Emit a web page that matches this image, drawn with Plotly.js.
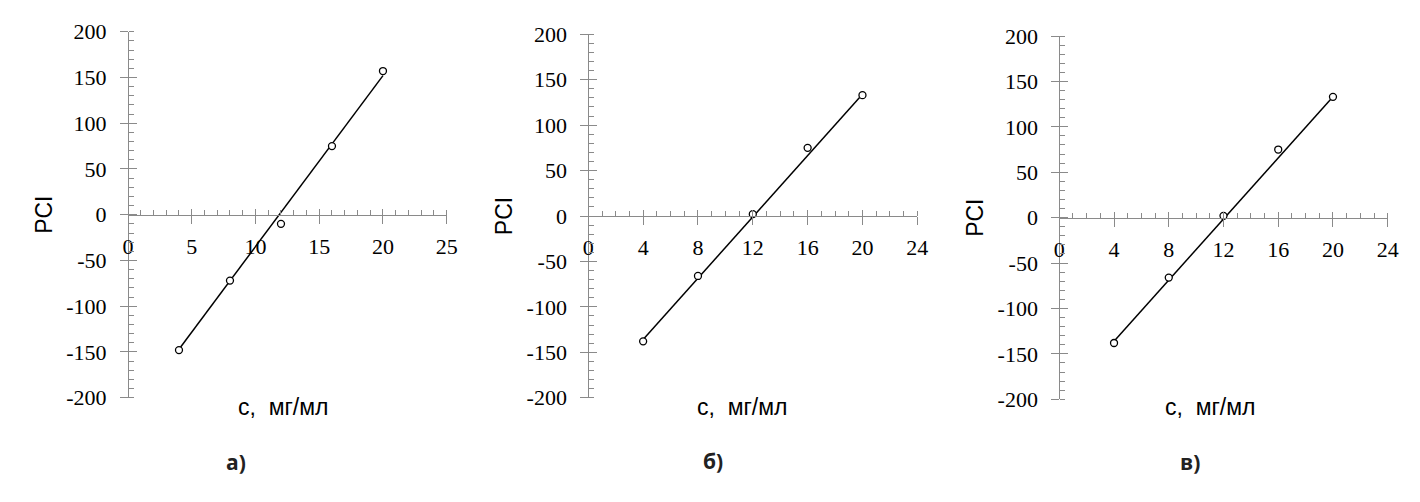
<!DOCTYPE html>
<html><head><meta charset="utf-8">
<script src="https://cdn.plot.ly/plotly-3.0.1.min.js"></script>
<style>html,body{margin:0;padding:0;background:#fff}#chart{width:1420px;height:502px}</style>
</head><body><div id="chart"></div>
<script>
// ---- data ----
const concA = [4, 8, 12, 16, 20];
const pciA = [-148, -72, -10, 75, 157];
const fitAx = [4, 20];
const fitAy = [-147, 152];

const concB = [4, 8, 12, 16, 20];
const pciB = [-138, -66, 2, 75, 133];
const fitBx = [4, 20];
const fitBy = [-136, 134];

const concC = [4, 8, 12, 16, 20];
const pciC = [-138, -66, 2, 75, 133];
const fitCx = [4, 20];
const fitCy = [-136, 133];

const xTicksA = [0, 5, 10, 15, 20, 25];
const xTicksBC = [0, 4, 8, 12, 16, 20, 24];
const yTicks = [-200, -150, -100, -50, 0, 50, 100, 150, 200];
const yTickText = ['-200', '-150', '-100', '-50', '0', '50', '100', '150', '200'];
const xRangeA = [0, 25];
const xRangeBC = [0, 24];
const yRange = [-200, 200];
const yTitle = 'PCI';
const xTitle = 'с,  мг/мл';
const panelLabels = ['а)', 'б)', 'в)'];

// ---- layout helpers ----
const grey = '#8a8a8a';
const tickFont = {family: 'Liberation Serif, Times New Roman, serif', size: 22, color: '#000'};
const panels = [
  {xs: concA, ys: pciA, fx: fitAx, fy: fitAy, xr: xRangeA, xt: xTicksA,
   xd: [128/1420, 446.7/1420], yd: [(502-397.7)/502, (502-31.7)/502], lx: 236, ly: 462, tx: 283},
  {xs: concB, ys: pciB, fx: fitBx, fy: fitBy, xr: xRangeBC, xt: xTicksBC,
   xd: [588.3/1420, 917.3/1420], yd: [(502-397.7)/502, (502-34.3)/502], lx: 713, ly: 461, tx: 742},
  {xs: concC, ys: pciC, fx: fitCx, fy: fitCy, xr: xRangeBC, xt: xTicksBC,
   xd: [1059.3/1420, 1387.7/1420], yd: [(502-399.3)/502, (502-36)/502], lx: 1190, ly: 462, tx: 1210}
];

const data = [];
const layout = {
  width: 1420, height: 502,
  margin: {l: 0, r: 0, t: 0, b: 0},
  paper_bgcolor: '#fff', plot_bgcolor: 'rgba(0,0,0,0)',
  showlegend: false,
  annotations: []
};

panels.forEach((p, i) => {
  const n = i + 1;
  const no = i + 4;
  const xa = n === 1 ? 'x' : 'x' + n;
  const ya = n === 1 ? 'y' : 'y' + n;
  const xo = 'x' + no, yo = 'y' + no;
  const xKey = n === 1 ? 'xaxis' : 'xaxis' + n;
  const yKey = n === 1 ? 'yaxis' : 'yaxis' + n;
  const ymid = (p.yd[0] + p.yd[1]) / 2;

  data.push({type: 'scatter', mode: 'lines', x: p.fx, y: p.fy, xaxis: xa, yaxis: ya,
    line: {color: '#000', width: 1.5}, hoverinfo: 'skip'});
  data.push({type: 'scatter', mode: 'markers', x: p.xs, y: p.ys, xaxis: xa, yaxis: ya,
    marker: {symbol: 'circle', size: 7, color: '#fff', line: {color: '#000', width: 1.3}}, cliponaxis: false});
  data.push({type: 'scatter', mode: 'markers', x: [], y: [], xaxis: xo, yaxis: yo, hoverinfo: 'skip'});

  layout[xKey] = {
    domain: p.xd, range: p.xr, anchor: 'free', position: ymid,
    tickmode: 'array', tickvals: p.xt, ticktext: p.xt.map(String),
    ticks: 'outside', ticklen: 8, tickwidth: 1, tickcolor: grey,
    showline: true, linecolor: grey, linewidth: 1,
    showgrid: false, zeroline: false,
    minor: {tickmode: 'linear', dtick: 1, tick0: 0, ticks: 'inside', ticklen: 5, tickwidth: 1, tickcolor: grey, showgrid: false},
    tickfont: tickFont, ticklabelstandoff: 4, fixedrange: true
  };
  layout[yKey] = {
    domain: p.yd, range: yRange, anchor: 'free', position: p.xd[0], side: 'left',
    tickmode: 'array', tickvals: yTicks, ticktext: yTickText,
    ticks: 'outside', ticklen: 8, tickwidth: 1, tickcolor: grey,
    showline: true, linecolor: grey, linewidth: 1,
    showgrid: false, zeroline: false,
    minor: {tickmode: 'linear', dtick: 10, tick0: 0, ticks: 'inside', ticklen: 5, tickwidth: 1, tickcolor: grey, showgrid: false},
    tickfont: tickFont, ticklabelstandoff: 9, fixedrange: true,
    title: {text: yTitle, font: {family: 'Liberation Sans, Arial, sans-serif', size: 23, color: '#000'}, standoff: 6}
  };
  layout['xaxis' + no] = {
    overlaying: xa, domain: p.xd, range: p.xr, anchor: 'free', position: ymid,
    tickmode: 'array', tickvals: p.xt,
    ticks: 'inside', ticklen: 6, tickwidth: 1, tickcolor: grey,
    showticklabels: false, showline: false, showgrid: false, zeroline: false, fixedrange: true
  };
  layout['yaxis' + no] = {
    overlaying: ya, domain: p.yd, range: yRange, anchor: 'free', position: p.xd[0], side: 'left',
    tickmode: 'array', tickvals: yTicks,
    ticks: 'inside', ticklen: 8, tickwidth: 1, tickcolor: grey,
    showticklabels: false, showline: false, showgrid: false, zeroline: false, fixedrange: true
  };

  layout.annotations.push({
    xref: 'paper', yref: 'paper', x: p.tx / 1420, y: 1 - 407 / 502, xanchor: 'center', yanchor: 'middle',
    text: xTitle, showarrow: false,
    font: {family: 'Liberation Sans, Arial, sans-serif', size: 23, color: '#000'}
  });
  layout.annotations.push({
    xref: 'paper', yref: 'paper', x: p.lx / 1420, y: 1 - p.ly / 502, xanchor: 'center', yanchor: 'middle',
    text: '<b>' + panelLabels[i] + '</b>', showarrow: false,
    font: {family: 'Open Sans, Noto Sans, sans-serif', size: 21, color: '#222'}
  });
});

Plotly.newPlot('chart', data, layout, {displayModeBar: false, staticPlot: true});
</script>
</body></html>
